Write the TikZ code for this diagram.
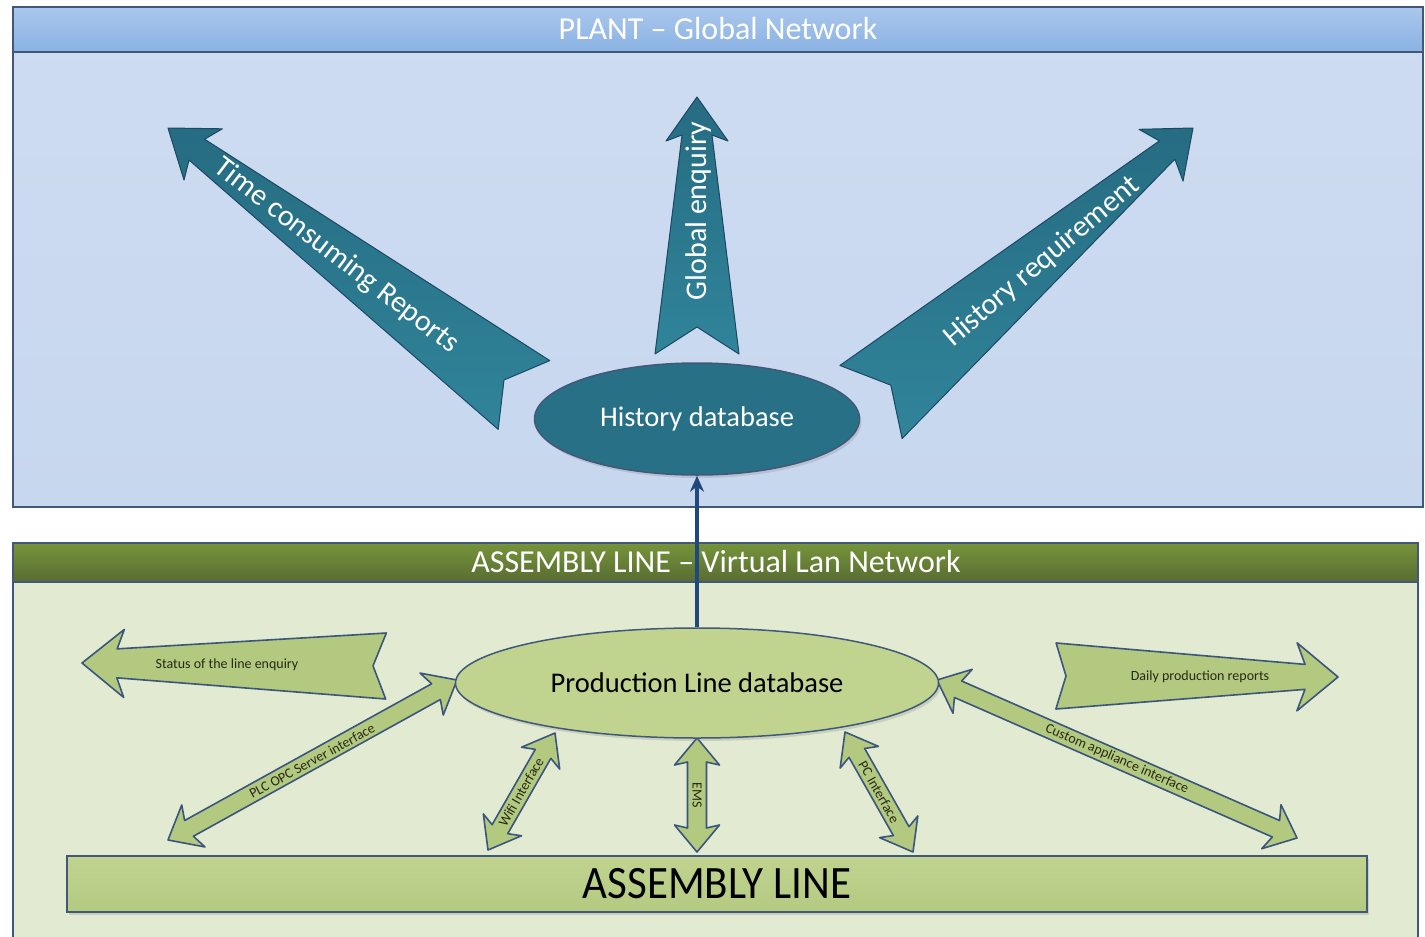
\documentclass[tikz,border=0pt]{standalone}
\usepackage{fontspec}
\usepackage{graphicx}
\setmainfont{Carlito}
\usetikzlibrary{calc,shapes.geometric,arrows.meta,shadows}

\definecolor{boxborder}{RGB}{66,88,120}
\definecolor{plantbody}{RGB}{206,220,241}
\definecolor{plantbodyb}{RGB}{199,215,238}
\definecolor{planthdrtop}{RGB}{170,199,236}
\definecolor{planthdrbot}{RGB}{138,178,227}
\definecolor{asmbody}{RGB}{226,234,210}
\definecolor{asmhdrtop}{RGB}{118,148,58}
\definecolor{asmhdrbot}{RGB}{88,108,50}
\definecolor{tealtop}{RGB}{38,108,130}
\definecolor{tealbot}{RGB}{48,132,154}
\definecolor{tealborder}{RGB}{28,72,98}
\definecolor{greenfill}{RGB}{180,201,128}
\definecolor{greenlight}{RGB}{192,212,144}
\definecolor{greenborder}{RGB}{58,86,124}
\definecolor{darklbl}{RGB}{38,42,22}
\definecolor{connblue}{RGB}{31,73,125}

% #1 tail centre, #2 tip, #3 tail half width, #4 neck half width,
% #5 head half width, #6 neck distance from tip, #7 barb distance from tip,
% #8 notch depth, #9 style
\newcommand{\tailarrow}[9]{%
  \coordinate (qn) at ($(#2)!#6!(#1)$);
  \coordinate (qh) at ($(#2)!#7!(#1)$);
  \draw[#9] ($(#1)!#8!(#2)$) -- ($(#1)!#3!90:(#2)$) -- ($(qn)!#4!90:(#2)$)
    -- ($(qh)!#5!90:(#2)$) -- (#2) -- ($(qh)!#5!-90:(#2)$)
    -- ($(qn)!#4!-90:(#2)$) -- ($(#1)!#3!-90:(#2)$) -- cycle;
}
% #1 end A, #2 end B, #3 shaft half width, #4 head half width,
% #5 neck distance, #6 barb distance, #7 style
\newcommand{\dblarrow}[7]{%
  \coordinate (qa) at ($(#1)!#5!(#2)$);
  \coordinate (qb) at ($(#2)!#5!(#1)$);
  \coordinate (qc) at ($(#1)!#6!(#2)$);
  \coordinate (qd) at ($(#2)!#6!(#1)$);
  \draw[#7] (#1) -- ($(qc)!#4!90:(#2)$) -- ($(qa)!#3!90:(#2)$)
    -- ($(qb)!#3!-90:(#1)$) -- ($(qd)!#4!-90:(#1)$) -- (#2)
    -- ($(qd)!#4!90:(#1)$) -- ($(qb)!#3!90:(#1)$)
    -- ($(qa)!#3!-90:(#2)$) -- ($(qc)!#4!-90:(#2)$) -- cycle;
}

\begin{document}
\begin{tikzpicture}[x=1pt,y=-1pt,
  boxline/.style={draw=boxborder, line width=1.5pt},
  tealarrow/.style={draw=tealborder, line width=1pt, top color=tealtop, bottom color=tealbot, line join=round},
  greenarrow/.style={draw=greenborder, line width=1.6pt, fill=greenfill, line join=round},
  titletext/.style={text=white, font=\fontsize{32}{36}\selectfont},
  bigwhite/.style={text=white, font=\fontsize{30}{34}\selectfont},
  smalllbl/.style={text=darklbl, font=\fontsize{14}{16}\selectfont, inner sep=0pt},
  dbnode/.style={ellipse, draw=boxborder, line width=1.5pt, inner sep=0pt,
     drop shadow={shadow xshift=2pt, shadow yshift=-3pt, opacity=0.25}},
]
\useasboundingbox (0,0) rectangle (1425,937);
\fill[white] (0,0) rectangle (1425,937);

% ---------- PLANT box ----------
\path[boxline, top color=plantbody, bottom color=plantbodyb] (13,7) rectangle (1423,507);
\draw[boxline] (13,7) rectangle (1423,507);
\draw[boxline, top color=planthdrtop, bottom color=planthdrbot] (13,7) rectangle (1423,52);
\node[titletext] (plant) at (718,29) {PLANT – Global Network};

% ---------- ASSEMBLY LINE box ----------
\draw[boxline, fill=asmbody] (13,543) rectangle (1418,960);
\draw[boxline, top color=asmhdrtop, bottom color=asmhdrbot] (13,543) rectangle (1418,582);

% ---------- top arrows ----------
\coordinate (t1) at (524,395); \coordinate (h1) at (168,128);
\coordinate (t2) at (697,354); \coordinate (h2) at (697,97);
\coordinate (t3) at (871,402); \coordinate (h3) at (1193,128);
\tailarrow{t1}{h1}{43pt}{13pt}{32pt}{36pt}{44pt}{25pt}{tealarrow}
\tailarrow{t2}{h2}{42pt}{15pt}{31pt}{38pt}{44pt}{27pt}{tealarrow}
\tailarrow{t3}{h3}{48pt}{12pt}{34pt}{34pt}{42pt}{26pt}{tealarrow}
\node[bigwhite, rotate=-37.5] (lbl1) at (336,256) {Time consuming Reports};
\node[bigwhite, rotate=90] (lbl2) at (698,211) {Global enquiry};
\node[bigwhite, rotate=40.3] (lbl3) at (1042,262) {History requirement};

% ---------- History database ----------
\node[dbnode, fill=tealtop!85!tealbot, minimum width=325pt, minimum height=112pt,
  text=white, font=\fontsize{28.5}{32}\selectfont] (hdb) at (697,419) {History database};

% ---------- bottom arrows ----------
\coordinate (s1t) at (386,666); \coordinate (s1h) at (82,663);
\coordinate (s2t) at (1056,676); \coordinate (s2h) at (1338,677);
\tailarrow{s1t}{s1h}{33pt}{14.5pt}{34pt}{35pt}{42pt}{13pt}{greenarrow}
\tailarrow{s2t}{s2h}{33pt}{12.5pt}{34pt}{33pt}{41pt}{10pt}{greenarrow}
\node[smalllbl] (lbs1) at (227,665) {Status of the line enquiry};
\node[smalllbl] (lbs2) at (1200,677) {Daily production reports};

\coordinate (pa) at (168,840); \coordinate (pb) at (457,680);
\coordinate (wa) at (488,850); \coordinate (wb) at (555,733);
\coordinate (ea) at (697,852); \coordinate (eb) at (697,738);
\coordinate (ca) at (913,852); \coordinate (cb) at (845,732);
\coordinate (ua) at (937,680); \coordinate (ub) at (1297,838);
\dblarrow{pa}{pb}{9pt}{24pt}{24pt}{29pt}{greenarrow}
\dblarrow{wa}{wb}{9pt}{22pt}{24pt}{29pt}{greenarrow}
\dblarrow{ea}{eb}{9.5pt}{22.5pt}{24pt}{27pt}{greenarrow}
\dblarrow{ca}{cb}{9pt}{22pt}{24pt}{29pt}{greenarrow}
\dblarrow{ua}{ub}{9pt}{24pt}{23pt}{28pt}{greenarrow}
\node[smalllbl, rotate=28.7] (lbp) at (312,761) {PLC OPC Server interface};
\node[smalllbl, rotate=60.2] (lbw) at (521,792) {Wifi Interface};
\node[smalllbl, rotate=-90] (lbe) at (697,795) {EMS};
\node[smalllbl, rotate=-60.5] (lbc) at (879,792) {PC Interface};
\node[smalllbl, rotate=-23.7] (lbu) at (1117,759) {Custom appliance interface};

% ---------- Production Line database ----------
\node[dbnode, fill=greenlight, minimum width=483pt, minimum height=110pt,
  font=\fontsize{28.5}{32}\selectfont] (pdb) at (697,683) {Production Line database};

% ---------- ASSEMBLY LINE bar ----------
\node[draw=boxborder, line width=1.5pt, top color=greenlight, bottom color=greenfill,
  minimum width=1300pt, minimum height=56pt, inner sep=0pt,
  drop shadow={shadow xshift=2pt, shadow yshift=-3pt, opacity=0.25},
  font=\fontsize{43}{46}\selectfont] (bar) at (717,884) {\scalebox{1}[1.08]{ASSEMBLY LINE}};

% ---------- connector ----------
\draw[connblue, line width=4pt, -{Stealth[length=16pt,width=14pt]}] (pdb.north) -- (hdb.south);

% header title drawn after connector
\node[titletext] (asm) at (716,562) {ASSEMBLY LINE – Virtual Lan Network};
\end{tikzpicture}
\end{document}
